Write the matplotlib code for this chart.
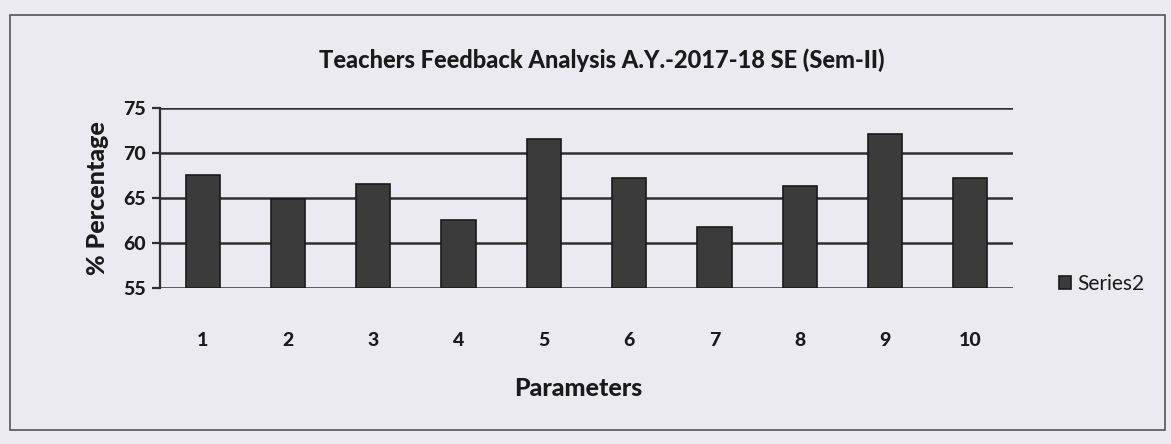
import matplotlib
matplotlib.use("Agg")
import matplotlib.pyplot as plt
from matplotlib.patches import Rectangle

categories = ["1", "2", "3", "4", "5", "6", "7", "8", "9", "10"]
series2 = [67.6, 64.9, 66.6, 62.5, 71.6, 67.2, 61.8, 66.3, 72.1, 67.2]
yticks = [55, 60, 65, 70, 75]

plt.rcParams['font.family'] = ['Lato', 'DejaVu Sans']
bg = "#ebeaf0"
fig = plt.figure(figsize=(11.71, 4.44), dpi=100, facecolor=bg)
ax = fig.add_axes([160/1171, 1 - 288/444, (1013-160)/1171, (288-108)/444])
ax.set_facecolor(bg)

x = list(range(len(categories)))
ax.bar(x, [v - 55 for v in series2], bottom=55, width=0.4, color="#3b3b3b",
       edgecolor="#1a1a1a", linewidth=1.2, label="Series2", zorder=3)
ax.set_xlim(-0.5, len(categories) - 0.5)
ax.set_ylim(55, 75)
ax.set_yticks(yticks)
ax.set_xticks(x)
ax.set_xticklabels(categories)
ax.yaxis.grid(True, color="#2e2e2e", linewidth=1.8, zorder=1)
for s in ["top", "right", "bottom"]:
    ax.spines[s].set_visible(False)
ax.spines["left"].set_color("#2e2e2e")
ax.spines["left"].set_linewidth(1.6)
ax.tick_params(axis="x", length=0, pad=32, labelsize=14)
ax.tick_params(axis="y", length=6, width=1.6, color="#2e2e2e", labelsize=14, pad=4)
for t in ax.get_xticklabels() + ax.get_yticklabels():
    t.set_fontweight("black")
    t.set_color("#1a1a1a")

ax.set_ylabel("% Percentage", fontsize=18, fontweight="black", labelpad=10, color="#1a1a1a")
fig.text(578/1171, 1 - 388/444, "Parameters", ha="center", va="center",
         fontsize=18, fontweight="black", color="#1a1a1a")
fig.text(602/1171, 1 - 60/444, "Teachers Feedback Analysis A.Y.-2017-18 SE (Sem-II)",
         ha="center", va="center", fontsize=17, fontweight="black", color="#1a1a1a")

leg = fig.legend(loc="center left", bbox_to_anchor=(1040/1171, 1 - 284/444), frameon=False,
                 fontsize=15, handlelength=0.6, handleheight=0.6, handletextpad=0.3)
for t in leg.get_texts():
    t.set_color("#1a1a1a")

fig.patches.append(Rectangle((10/1171, 1 - 430/444), 1155/1171, 415/444,
                             transform=fig.transFigure, fill=False,
                             edgecolor="#555555", linewidth=1.2))

fig.savefig("out.png", dpi=100, facecolor=bg)
